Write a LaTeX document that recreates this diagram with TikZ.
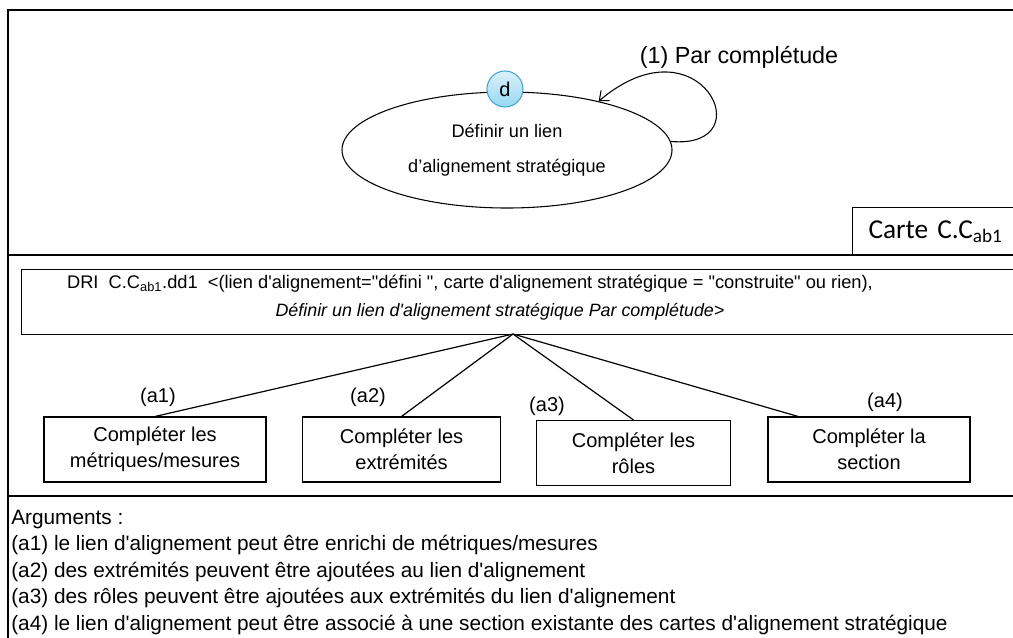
\documentclass[tikz,border=0pt]{standalone}
\usepackage{fontspec}
\setmainfont{Liberation Sans}[Ligatures=TeXOff]
\newfontfamily\cartefont{Carlito}
\usetikzlibrary{shapes.geometric,arrows.meta}
\definecolor{ballfill}{RGB}{150,215,240}
\definecolor{balldraw}{RGB}{70,165,205}
\tikzset{
  mapline/.style  ={draw=black,line width=1.1pt},
  thinline/.style ={draw=black,line width=0.8pt},
  goalnode/.style ={ellipse,thinline,align=center,inner sep=0pt,
                    minimum width=247.5pt,minimum height=87pt,
                    font=\fontsize{13.6}{26}\selectfont},
  tagball/.style  ={circle,draw=balldraw,line width=0.8pt,inner sep=0pt,
                    minimum size=27pt,top color=ballfill!35!white,bottom color=ballfill,
                    font=\fontsize{15}{17}\selectfont},
  loopedge/.style ={thinline,-{Straight Barb[length=6pt,width=10pt]}},
  cartebox/.style ={thinline,anchor=north west,inner sep=0pt,text width=111pt,
                    minimum width=135pt,minimum height=36pt,
                    font=\cartefont\fontsize{20.5}{22}\selectfont},
  dribox/.style   ={thinline,anchor=north west,inner sep=0pt,
                    minimum width=746pt,minimum height=48.75pt},
  dritext/.style  ={inner sep=0pt,font=\fontsize{13.7}{16}\selectfont},
  argbox/.style   ={thinline,align=center,inner sep=0pt,minimum height=48.75pt,
                    font=\fontsize{15}{19.5}\selectfont},
  treeline/.style ={draw=black,line width=0.9pt},
  arglab/.style   ={inner sep=1pt,font=\fontsize{15}{17}\selectfont},
}
\begin{document}
\begin{tikzpicture}[x=0.75pt,y=-0.75pt]
\useasboundingbox (0,0) rectangle (1013,637);
% frame of the three parts
\draw[mapline] (1016,10) -- (8,10) -- (8,640);
\draw[mapline] (8,255) -- (1016,255);
\draw[mapline] (8,496) -- (1016,496);

% map
\node[goalnode] (goal) at (507,150) {Définir un lien\\d’alignement stratégique};
\node[tagball] (tag) at (505,89) {d};
\draw[loopedge] (goal.3) .. controls (765,150) and (700,15) .. (goal.28);
\node[arglab,font=\fontsize{17.5}{20}\selectfont] (looplab) at (739,57) {(1) Par complétude};
\node[cartebox] (carte) at (852,207) {Carte C.C\textsubscript{ab1}};

% refinement
\node[dribox] (dri) at (21,269) {};
\node[dritext] (drione) at (470,284) {DRI \ C.C\textsubscript{ab1}.dd1 \ <(lien d'alignement="défini ", carte d'alignement stratégique = "construite" ou rien),};
\node[dritext,font=\fontsize{13.4}{16}\itshape] (dritwo) at (500,312) {Définir un lien d'alignement stratégique Par complétude>};
\coordinate (apex) at (513,334);
\node[argbox,minimum width=166.5pt] (b1) at (155,449.5) {Compléter les\\métriques/mesures};
\node[argbox,minimum width=149pt] (b2) at (401.5,449.5) {Compléter les\\extrémités};
\node[argbox,minimum width=145pt] (b3) at (633.5,453) {Compléter les\\rôles};
\node[argbox,minimum width=151.5pt] (b4) at (869,449.5) {Compléter la\\section};
\coordinate (b4top) at (800,417);
\draw[treeline] (apex) -- (b1.north);
\draw[treeline] (apex) -- (b2.north);
\draw[treeline] (apex) -- (b3.north);
\draw[treeline] (apex) -- (b4top);
\node[arglab] (l1) at (158,397) {(a1)};
\node[arglab] (l2) at (368,397) {(a2)};
\node[arglab] (l3) at (547,406) {(a3)};
\node[arglab] (l4) at (885,402) {(a4)};

% arguments
\node[anchor=north west,align=left,inner sep=0pt,font=\fontsize{15.6}{19.8}\selectfont] (args) at (11,510) {Arguments :\\
(a1) le lien d'alignement peut être enrichi de métriques/mesures\\
(a2) des extrémités peuvent être ajoutées au lien d'alignement\\
(a3) des rôles peuvent être ajoutées aux extrémités du lien d'alignement\\
(a4) le lien d'alignement peut être associé à une section existante des cartes d'alignement stratégique};
\end{tikzpicture}
\end{document}
